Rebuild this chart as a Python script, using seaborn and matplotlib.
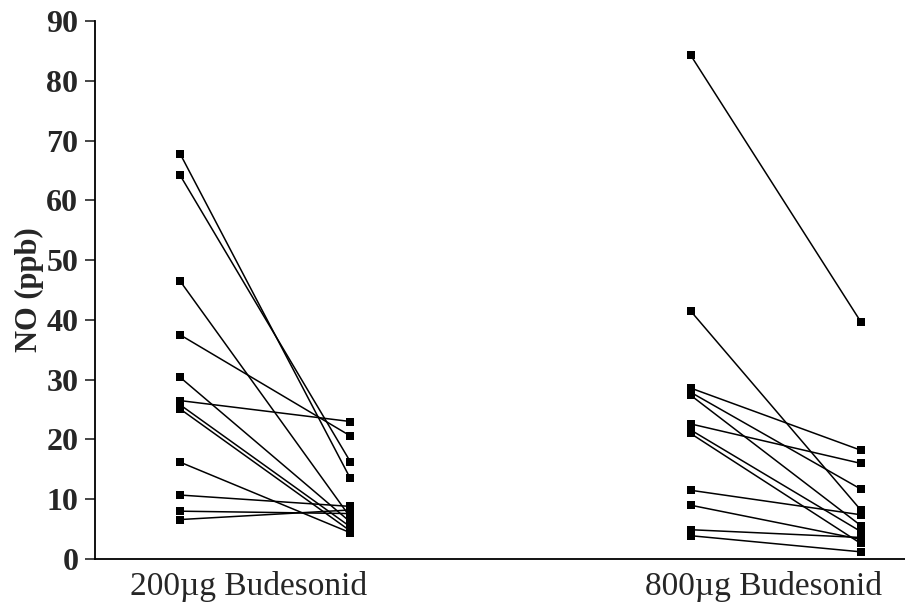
import pandas as pd
import numpy as np
import matplotlib
matplotlib.use("Agg")
import matplotlib.pyplot as plt
import seaborn as sns

# NO-Werte (ppb) vor / nach Therapie, je Patient
groups = ["200µg Budesonid", "800µg Budesonid"]
low_before = [67.8, 64.2, 46.5, 37.5, 30.4, 26.5, 25.8, 25.1, 16.2, 10.7, 8.0, 6.6]
low_after = [13.5, 16.3, 7.0, 20.6, 6.2, 23.0, 5.4, 4.7, 4.4, 8.8, 7.6, 8.2]
high_before = [84.3, 41.5, 28.6, 27.9, 27.4, 22.6, 21.6, 21.0, 11.5, 9.0, 4.9, 3.9]
high_after = [39.7, 8.2, 18.2, 11.7, 5.6, 16.0, 4.6, 2.6, 7.4, 3.3, 3.6, 1.2]
y_ticks = list(range(0, 91, 10))

sns.set_style("white")
plt.rcParams['font.family'] = ['Liberation Serif', 'DejaVu Serif']

# Long-Format fuer seaborn
rows = []
for g, (bef, aft) in enumerate([(low_before, low_after), (high_before, high_after)]):
    x0 = g * 3
    for i, (b, a) in enumerate(zip(bef, aft)):
        sid = f"{g}_{i}"
        rows.append({"subject": sid, "pos": x0, "NO": b})
        rows.append({"subject": sid, "pos": x0 + 1, "NO": a})
df = pd.DataFrame(rows)

fig = plt.figure(figsize=(9.05, 6.13), dpi=100)
ax = fig.add_axes([95 / 905, 54 / 613, 810 / 905, 538 / 613])

sns.lineplot(data=df, x="pos", y="NO", units="subject", estimator=None,
             color="black", linewidth=1.1, marker="s", markersize=6,
             markeredgewidth=0, ax=ax, legend=False)

ax.set_xlim(-0.5, 4.26)
ax.set_ylim(0, 90)
ax.set_yticks(y_ticks)
ax.set_yticklabels([str(t) for t in y_ticks], fontsize=23, fontweight="bold")
ax.set_xticks([0.4, 3.43])
ax.set_xticklabels(groups, fontsize=24)
ax.tick_params(axis="x", length=0, pad=9)
ax.tick_params(axis="y", direction="out", length=7, width=1.2, pad=5, left=True)
ax.set_xlabel("")
ax.set_ylabel("NO (ppb)", fontsize=22, fontweight="bold", labelpad=2)

for s in ["top", "right"]:
    ax.spines[s].set_visible(False)
for s in ["left", "bottom"]:
    ax.spines[s].set_color("black")
    ax.spines[s].set_linewidth(1.3)

fig.savefig("out.png", dpi=100)
